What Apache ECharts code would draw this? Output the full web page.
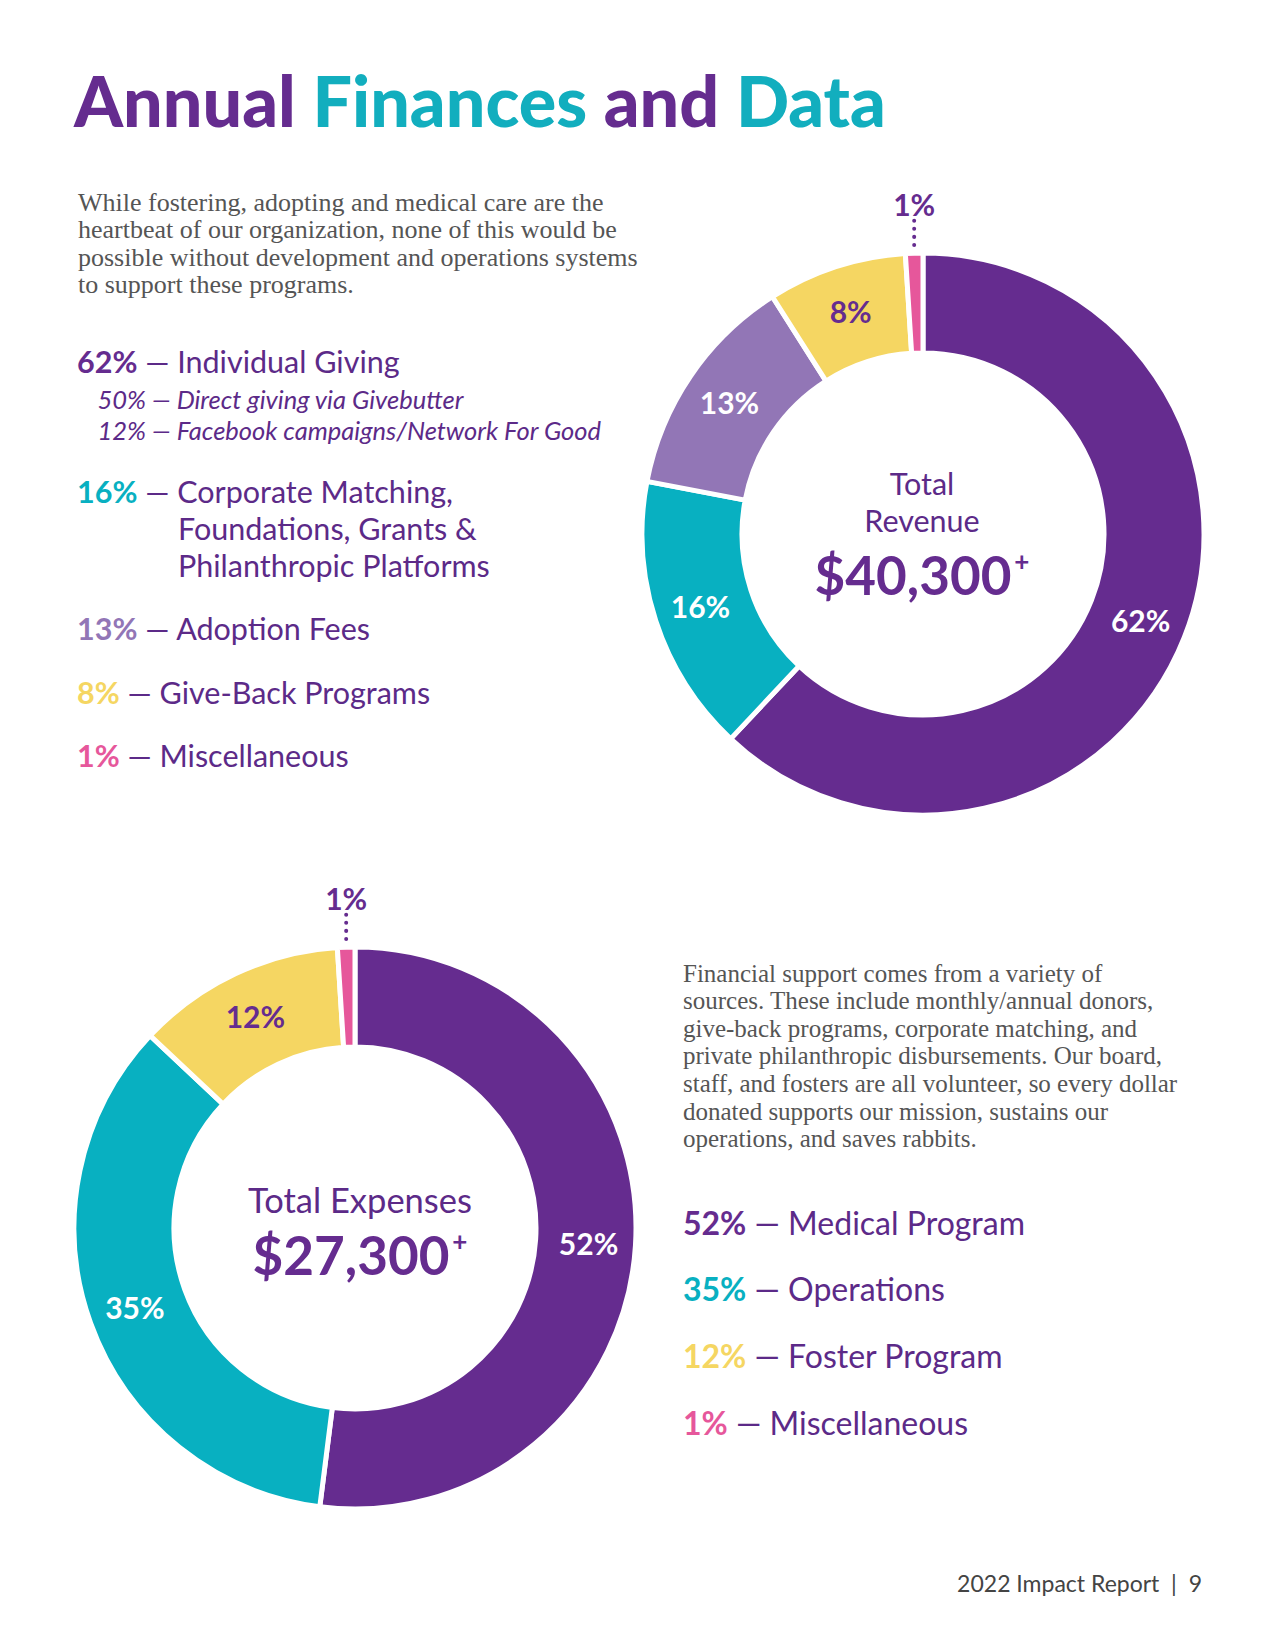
<!DOCTYPE html>
<html><head><meta charset="utf-8">
<script src="https://cdn.jsdelivr.net/npm/echarts@6/dist/echarts.min.js"></script>
<style>html,body{margin:0;padding:0;background:#fff}#main{width:1275px;height:1650px}</style>
</head><body><div id="main"></div>
<script>
// ---------- DATA ----------
const revenueCategories = ['Individual Giving', 'Corporate Matching,\nFoundations, Grants &\nPhilanthropic Platforms', 'Adoption Fees', 'Give-Back Programs', 'Miscellaneous'];
const revenueValues = [62, 16, 13, 8, 1];
const revenueSubCategories = ['Direct giving via Givebutter', 'Facebook campaigns/Network For Good'];
const revenueSubValues = [50, 12];
const revenueTotal = '$40,300';
const expenseCategories = ['Medical Program', 'Operations', 'Foster Program', 'Miscellaneous'];
const expenseValues = [52, 35, 12, 1];
const expenseTotal = '$27,300';
const titleWords = ['Annual', 'Finances', 'and', 'Data'];
const introLines = ['While fostering, adopting and medical care are the', 'heartbeat of our organization, none of this would be', 'possible without development and operations systems', 'to support these programs.'];
const supportLines = ['Financial support comes from a variety of', 'sources. These include monthly/annual donors,', 'give-back programs, corporate matching, and', 'private philanthropic disbursements. Our board,', 'staff, and fosters are all volunteer, so every dollar', 'donated supports our mission, sustains our', 'operations, and saves rabbits.'];
const footerText = '2022 Impact Report  |  9';

// ---------- STYLE ----------
const PURPLE = '#652C8F', TEAL = '#08B0C1', LAV = '#9276B6', YEL = '#F5D662', PINK = '#E6579B';
const TEXT_PURPLE = '#5C2A88';
const revenueColors = [PURPLE, TEAL, LAV, YEL, PINK];
const expenseColors = [PURPLE, TEAL, YEL, PINK];
const SANS = 'Lato, "Noto Sans", sans-serif';
const SERIF = '"Liberation Serif", "DejaVu Serif", serif';

function pieSeries(values, colors, center) {
  return {
    type: 'pie', center: center, radius: [181, 281], startAngle: 90, clockwise: true,
    silent: true, animation: false, avoidLabelOverlap: false,
    itemStyle: { borderColor: '#fff', borderWidth: 5 },
    label: { show: true, position: 'inside', formatter: '{c}%', fontFamily: SANS, fontWeight: 'bold', fontSize: 30, color: '#fff' },
    labelLine: { show: false },
    labelLayout: function (p) {
      if (p.labelLinePoints) {
        const pt = p.labelLinePoints[0];
        return { x: pt[0], y: pt[1] - 28, align: 'center', verticalAlign: 'bottom' };
      }
      return {};
    },
    data: values.map(function (v, i) {
      const c = colors[i];
      const d = { value: v, itemStyle: { color: c } };
      if (c === YEL) d.label = { color: PURPLE };
      if (v <= 1) {
        d.label = { position: 'outside', color: PURPLE, padding: [0, 0, 6, 0] };
        d.labelLine = { show: true, length: 28, length2: 0, lineStyle: { color: PURPLE, width: 4, type: [0.1, 8], cap: 'round' } };
      }
      return d;
    })
  };
}

function txt(x, y, text, font, fill, align) {
  return { type: 'text', x: x, y: y, silent: true, style: { text: text, font: font, fill: fill, align: align || 'left', textAlign: align || 'left', verticalAlign: 'middle', textVerticalAlign: 'middle' } };
}
function rtxt(x, y, text, rich, align) {
  return { type: 'text', x: x, y: y, silent: true, style: { text: text, rich: rich, align: align || 'left', textAlign: align || 'left', verticalAlign: 'middle', textVerticalAlign: 'middle' } };
}

const g = [];
// Title
g.push(rtxt(74, 100, titleWords.map(function (w, i) { return '{' + (i % 2 ? 't' : 'p') + '|' + w + '}'; }).join('{s| }'), {
  p: { fill: PURPLE, fontFamily: SANS, fontWeight: 900, fontSize: 70 },
  t: { fill: '#12AEBE', fontFamily: SANS, fontWeight: 900, fontSize: 70 },
  s: { fill: PURPLE, fontFamily: SANS, fontWeight: 900, fontSize: 70 }
}));
// Intro paragraph
const introY = [202, 229, 257, 284];
introLines.forEach(function (l, i) { g.push(txt(78, introY[i], l, '26px ' + SERIF, '#555')); });
// Revenue list
const LIST_FS = 30.5;
const revRowY = [361, 491, 628, 692, 755];
const contX = 178, contStep = 37;
revenueCategories.forEach(function (cat, i) {
  const lines = cat.split('\n');
  g.push(rtxt(77, revRowY[i], '{n|' + revenueValues[i] + '%}{d| — ' + lines[0] + '}', {
    n: { fill: revenueColors[i], fontFamily: SANS, fontWeight: 'bold', fontSize: LIST_FS },
    d: { fill: TEXT_PURPLE, fontFamily: SANS, fontSize: LIST_FS }
  }));
  for (let k = 1; k < lines.length; k++) g.push(txt(contX, revRowY[i] + k * contStep, lines[k], LIST_FS + 'px ' + SANS, TEXT_PURPLE));
});
const subY = [399, 430];
revenueSubValues.forEach(function (v, i) {
  g.push(txt(146, subY[i], v + '%', 'italic 25.5px ' + SANS, TEXT_PURPLE, 'right'));
  g.push(txt(146, subY[i], ' — ' + revenueSubCategories[i], 'italic 25.5px ' + SANS, TEXT_PURPLE));
});
// Revenue center
g.push(txt(922, 483, 'Total', '30.5px ' + SANS, TEXT_PURPLE, 'center'));
g.push(txt(922, 520, 'Revenue', '30.5px ' + SANS, TEXT_PURPLE, 'center'));
g.push(rtxt(922, 574, '{m|' + revenueTotal + '}{s|+}', {
  m: { fill: PURPLE, fontFamily: SANS, fontWeight: 'bold', fontSize: 53 },
  s: { fill: PURPLE, fontFamily: SANS, fontWeight: 'bold', fontSize: 26, verticalAlign: 'top', padding: [0, 0, 0, 3] }
}, 'center'));
// Expense center
g.push(txt(360, 1199, 'Total Expenses', '34.5px ' + SANS, TEXT_PURPLE, 'center'));
g.push(rtxt(360, 1254, '{m|' + expenseTotal + '}{s|+}', {
  m: { fill: PURPLE, fontFamily: SANS, fontWeight: 'bold', fontSize: 53 },
  s: { fill: PURPLE, fontFamily: SANS, fontWeight: 'bold', fontSize: 26, verticalAlign: 'top', padding: [0, 0, 0, 3] }
}, 'center'));
// Support paragraph
const supY = [973, 1000, 1028, 1055, 1083, 1111, 1138];
supportLines.forEach(function (l, i) { g.push(txt(683, supY[i], l, '25px ' + SERIF, '#555')); });
// Expense list
const expRowY = [1222, 1288, 1355, 1422];
expenseCategories.forEach(function (cat, i) {
  g.push(rtxt(683, expRowY[i], '{n|' + expenseValues[i] + '%}{d| — ' + cat + '}', {
    n: { fill: expenseColors[i], fontFamily: SANS, fontWeight: 'bold', fontSize: 32 },
    d: { fill: TEXT_PURPLE, fontFamily: SANS, fontSize: 32 }
  }));
});
// Footer
g.push(txt(1202, 1583, footerText, '23px ' + SANS, '#444', 'right'));

const chart = echarts.init(document.getElementById('main'), null, { renderer: 'svg', width: 1275, height: 1650 });
chart.setOption({
  backgroundColor: '#fff',
  animation: false,
  series: [pieSeries(revenueValues, revenueColors, [923, 534]), pieSeries(expenseValues, expenseColors, [355, 1228])],
  graphic: { elements: g }
});
</script></body></html>
